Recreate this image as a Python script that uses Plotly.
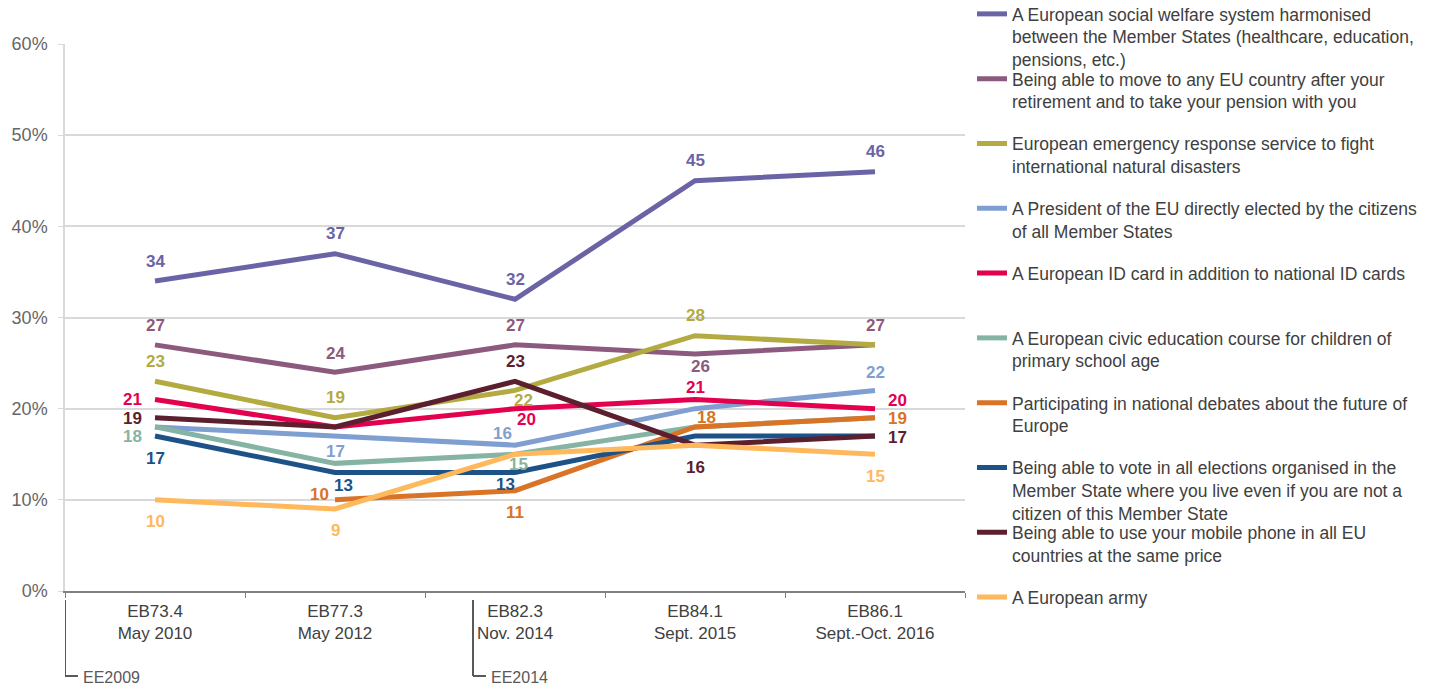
import plotly.graph_objects as go

# Survey waves (x axis categories)
waves = ["EB73.4<br>May 2010", "EB77.3<br>May 2012", "EB82.3<br>Nov. 2014",
         "EB84.1<br>Sept. 2015", "EB86.1<br>Sept.-Oct. 2016"]

# Share of respondents (%) per item and wave
social_welfare = [34, 37, 32, 45, 46]
move_retirement = [27, 24, 27, 26, 27]
emergency_service = [23, 19, 22, 28, 27]
eu_president = [18, 17, 16, 20, 22]
eu_id_card = [21, 18, 20, 21, 20]
civic_education = [18, 14, 15, 18, 19]
national_debates = [None, 10, 11, 18, 19]
vote_elections = [17, 13, 13, 17, 17]
mobile_phone = [19, 18, 23, 16, 17]
european_army = [10, 9, 15, 16, 15]

names = [
    "A European social welfare system harmonised<br>between the Member States (healthcare, education,<br>pensions, etc.)",
    "Being able to move to any EU country after your<br>retirement and to take your pension with you",
    "European emergency response service to fight<br>international natural disasters",
    "A President of the EU directly elected by the citizens<br>of all Member States",
    "A European ID card in addition to national ID cards",
    "A European civic education course for children of<br>primary school age",
    "Participating in national debates about the future of<br>Europe",
    "Being able to vote in all elections organised in the<br>Member State where you live even if you are not a<br>citizen of this Member State",
    "Being able to use your mobile phone in all EU<br>countries at the same price",
    "A European army",
]
series = [social_welfare, move_retirement, emergency_service, eu_president, eu_id_card,
          civic_education, national_debates, vote_elections, mobile_phone, european_army]
colors = ["#6a64a6", "#8b5a7e", "#b3aa42", "#7f9fd0", "#e3004f",
          "#86b4a4", "#d97326", "#1d5288", "#5c1f2e", "#ffb85c"]

# Value label placement per point: (xshift, yshift) in px, None = no label
label_offsets = [
    [(0, 20), (0, 20), (0, 20), (0, 20), (0, 20)],
    [(0, 19), (0, 19), (0, 19), (5, -13), (0, 19)],
    [(0, 20), (0, 20), (8, -10), (0, 20), None],
    [None, (0, -15), (-13, 12), None, (0, 18)],
    [(-23, 0), None, (11, -11), (0, 12), (22, 8)],
    [(-23, -10), None, (3, -10), None, None],
    [None, (-16, 5), (0, -22), (11, 9), (22, -1)],
    [(0, -22), (8, -13), (-10, -12), None, None],
    [(-23, -1), None, (0, 20), (0, -22), (22, -1)],
    [(0, -22), (0, -22), None, None, (0, -22)],
]

FONT = "Arial, 'Liberation Sans', sans-serif"
W, H = 1447, 685
ML, MR, MT, MB = 65, 482, 44, 94
plot_w = W - ML - MR
plot_h = H - MT - MB


def py(ypx):
    """Pixel row -> paper y."""
    return (H - MB - ypx) / plot_h


fig = go.Figure()
annotations = []
layout_legends = {}

for i, (vals, name, col) in enumerate(zip(series, names, colors)):
    leg = "legend" if i == 0 else f"legend{i + 1}"
    fig.add_trace(go.Scatter(
        x=waves, y=vals, name=name, mode="lines",
        line=dict(color=col, width=5), connectgaps=False,
        legend=leg, hoverinfo="x+y+name",
    ))
    for j, (v, off) in enumerate(zip(vals, label_offsets[i])):
        if v is None or off is None:
            continue
        annotations.append(dict(
            x=waves[j], y=v, xref="x", yref="y", text=f"<b>{v}</b>",
            showarrow=False, xshift=off[0], yshift=off[1],
            font=dict(family=FONT, size=17, color=col),
        ))
    # each legend entry sits in its own slot in the right-hand column
    top_px = 14 + 64.8 * i - 18
    layout_legends[leg] = dict(
        x=(972 - ML) / plot_w, y=py(top_px), xanchor="left", yanchor="top",
        xref="paper", yref="paper", valign="top",
        bgcolor="rgba(0,0,0,0)",
        font=dict(family=FONT, size=17.5, color="#404040"),
        itemwidth=30, tracegroupgap=0,
    )

# Election markers under the category axis
shapes = []
for x0, label in [(-0.5, "EE2009"), (1.7667, "EE2014")]:
    shapes.append(dict(type="line", xref="x", yref="paper", x0=x0, x1=x0,
                       y0=py(600), y1=py(676), line=dict(color="#595959", width=2)))
    shapes.append(dict(type="line", xref="x", yref="paper", x0=x0, x1=x0 + 13 / 180,
                       y0=py(676), y1=py(676), line=dict(color="#595959", width=2)))
    annotations.append(dict(x=x0 + 13 / 180, y=py(677), xref="x", yref="paper",
                            text=label, showarrow=False, xanchor="left", yanchor="middle",
                            xshift=3, font=dict(family=FONT, size=16, color="#595959")))

fig.update_layout(
    width=W, height=H, autosize=False,
    margin=dict(l=ML, r=MR, t=MT, b=MB, pad=0, autoexpand=False),
    paper_bgcolor="white", plot_bgcolor="white",
    showlegend=True,
    annotations=annotations, shapes=shapes,
    xaxis=dict(
        type="category", range=[-0.5, 4.5], tickson="boundaries",
        ticks="outside", ticklen=5, tickcolor="#808080", tickwidth=1,
        showline=True, linecolor="#808080", linewidth=1.5,
        ticklabelstandoff=4,
        showgrid=False, tickfont=dict(family=FONT, size=17, color="#404040"),
    ),
    yaxis=dict(
        range=[0, 60], dtick=10, ticksuffix="%", ticks="outside", ticklen=5,
        tickcolor="#d9d9d9", showgrid=True, gridcolor="#d9d9d9", gridwidth=1.5,
        showline=True, linecolor="#d9d9d9", linewidth=1.5, zeroline=False,
        ticklabelstandoff=7,
        tickfont=dict(family=FONT, size=18, color="#666666"),
    ),
    **layout_legends,
)

fig.write_html("out.html")
